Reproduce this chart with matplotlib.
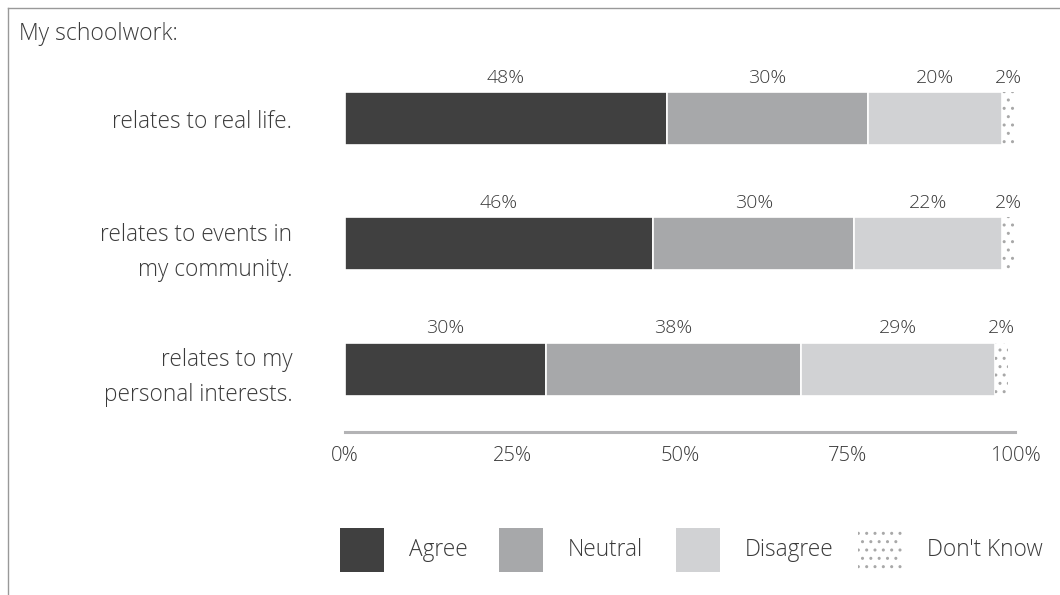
import matplotlib.pyplot as plt
from matplotlib.patches import Rectangle
from matplotlib.lines import Line2D

plt.rcParams['font.family'] = ['Open Sans', 'DejaVu Sans']
plt.rcParams['font.weight'] = 'light'
plt.rcParams['hatch.linewidth'] = 1.0

# survey answers, percent of respondents
questions = ['relates to real life.',
             'relates to events in\nmy community.',
             'relates to my\npersonal interests.']
categories = ['Agree', 'Neutral', 'Disagree', "Don't Know"]
agree = [48, 46, 30]
neutral = [30, 30, 38]
disagree = [20, 22, 29]
dont_know = [2, 2, 2]
ticks = [0, 25, 50, 75, 100]

colors = ['#404040', '#a7a8aa', '#d1d2d4', 'white']
hatches = [None, None, None, '..']
txt = '#3a3a3a'

W, H = 1060, 595
fig = plt.figure(figsize=(W / 100, H / 100), dpi=100)

# axes placed in pixel terms: 0% at x=345, 100% at x=1015, baseline at y=432
ax = fig.add_axes([345 / W, 1 - 432 / H, 670 / W, (432 - 56.5) / H])
ax.set_xlim(0, 100)
ax.set_ylim(-0.504, 2.5)

series = [agree, neutral, disagree, dont_know]
ypos = [2, 1, 0]
for i, q in enumerate(questions):
    left = 0
    for j, s in enumerate(series):
        v = s[i]
        ax.barh(ypos[i], v, left=left, height=0.424, color=colors[j],
                edgecolor='#a8a8a8' if hatches[j] else 'white',
                linewidth=0 if hatches[j] else 1.2, hatch=hatches[j])
        ax.text(left + v / 2, ypos[i] + 0.33, f'{v}%', ha='center', va='center',
                fontsize=14, color=txt)
        left += v

ax.set_yticks(ypos)
ax.set_yticklabels(questions, fontsize=16.3, color=txt, linespacing=1.6, ha='right')
ax.tick_params(axis='y', length=0, pad=38)
# two-line labels sit a little below the bar centre
for lab in ax.get_yticklabels():
    if '\n' in lab.get_text():
        lab.set_y(lab.get_position()[1] - 0.06)
ax.set_xticks(ticks)
ax.set_xticklabels([f'{t}%' for t in ticks], fontsize=14.5, color=txt)
ax.tick_params(axis='x', length=0, pad=10)
for s in ['top', 'right', 'left']:
    ax.spines[s].set_visible(False)
ax.spines['bottom'].set_color('#b3b3b5')
ax.spines['bottom'].set_linewidth(2.2)

# frame lines on the left and top
fig.add_artist(Line2D([8 / W, 8 / W], [0, 1 - 8 / H], color='#999999', lw=1))
fig.add_artist(Line2D([8 / W, 1], [1 - 8 / H, 1 - 8 / H], color='#999999', lw=1))

fig.text(19 / W, 1 - 34 / H, 'My schoolwork:', fontsize=16.5, color=txt, va='center')

# legend drawn by hand along the bottom
sq_x = [340, 499, 676, 858]
for k, name in enumerate(categories):
    x0 = sq_x[k]
    fig.add_artist(Rectangle((x0 / W, 1 - 572 / H), 44 / W, 44 / H,
                             transform=fig.transFigure, facecolor=colors[k],
                             edgecolor='#a8a8a8' if hatches[k] else 'none',
                             linewidth=0, hatch=hatches[k]))
    fig.text((x0 + 69) / W, 1 - 550 / H, name, fontsize=16.3, color=txt, va='center')

fig.savefig('out.png', dpi=100)
